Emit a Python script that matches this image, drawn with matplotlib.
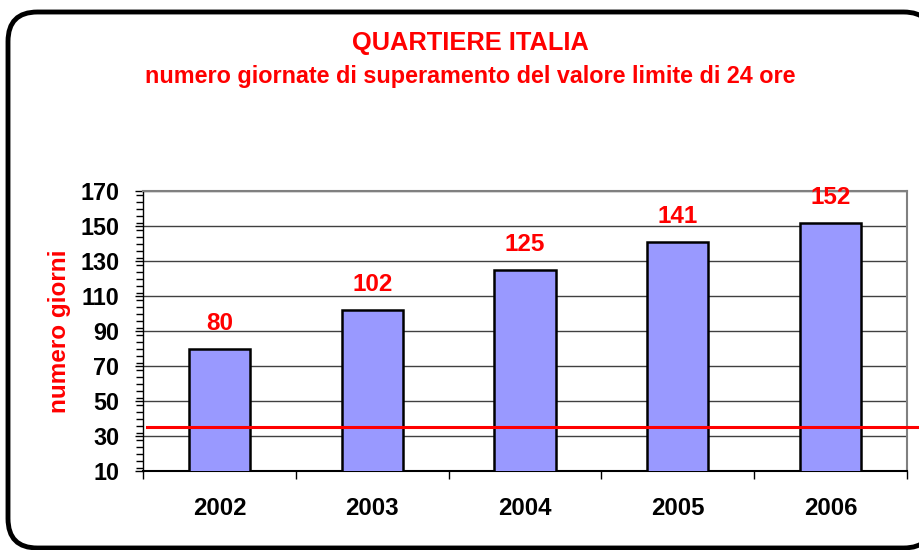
import matplotlib.pyplot as plt
from matplotlib.patches import FancyBboxPatch
from matplotlib.ticker import MultipleLocator

years = ["2002", "2003", "2004", "2005", "2006"]
giorni = [80, 102, 125, 141, 152]
limite = 35

plt.rcParams['font.family'] = ['Liberation Sans', 'DejaVu Sans']

fig = plt.figure(figsize=(9.2, 5.5), dpi=100)

# rounded frame
frame = FancyBboxPatch((8 / 920, 2 / 550), 925 / 920, 536 / 550,
                       boxstyle="round,pad=0,rounding_size=0.032",
                       transform=fig.transFigure, facecolor="white",
                       edgecolor="black", linewidth=3.5,
                       mutation_aspect=920 / 550, zorder=-1)
fig.patches.append(frame)

ax = fig.add_axes([143 / 920, 1 - 471 / 550, (907 - 143) / 920, (471 - 191) / 550])
ax.set_facecolor("none")

x = range(len(years))
ax.bar(x, giorni, bottom=0, width=0.4, color="#9999FF", edgecolor="black",
       linewidth=1.8, zorder=3)
ax.set_xlim(-0.5, len(years) - 0.5)
ax.set_ylim(10, 170)

for xi, v in zip(x, giorni):
    ax.text(xi, v + 8, str(v), ha="center", va="bottom", color="red",
            fontsize=17.5, fontweight="bold")

ax.plot([-0.474, 5.2], [limite, limite], color="red", linewidth=2.2,
        clip_on=False, zorder=4)

ax.yaxis.set_major_locator(MultipleLocator(20))
ax.yaxis.set_minor_locator(MultipleLocator(4))
ax.set_yticks(range(10, 171, 20))
ax.grid(axis="y", color="#404040", linewidth=1, zorder=1)
ax.tick_params(axis="y", which="major", length=6, width=1, labelsize=16.8, pad=11)
ax.tick_params(axis="y", which="minor", length=5, width=1)
for lab in ax.get_yticklabels():
    lab.set_fontweight("bold")

ax.set_xticks([i + 0.5 for i in range(-1, len(years))])
ax.set_xticklabels([])
ax.set_xticks(list(x), minor=True)
ax.set_xticklabels(years, minor=True, fontsize=17.3, fontweight="bold")
ax.tick_params(axis="x", which="major", length=6, width=1)
ax.tick_params(axis="x", which="minor", length=0, pad=19)

for side in ["top", "right"]:
    ax.spines[side].set_color("#808080")
    ax.spines[side].set_linewidth(1.5)
ax.spines["left"].set_linewidth(1)
ax.spines["bottom"].set_linewidth(1.5)

ax.set_ylabel("numero giorni", color="red", fontsize=17.5, fontweight="bold",
              labelpad=7)

fig.text(470 / 920, 1 - 43 / 550, "QUARTIERE ITALIA", ha="center", va="center",
         color="red", fontsize=18.3, fontweight="bold")
fig.text(470 / 920, 1 - 76 / 550,
         "numero giornate di superamento del valore limite di 24 ore",
         ha="center", va="center", color="red", fontsize=16.8, fontweight="bold")

fig.savefig("out.png", dpi=100)
